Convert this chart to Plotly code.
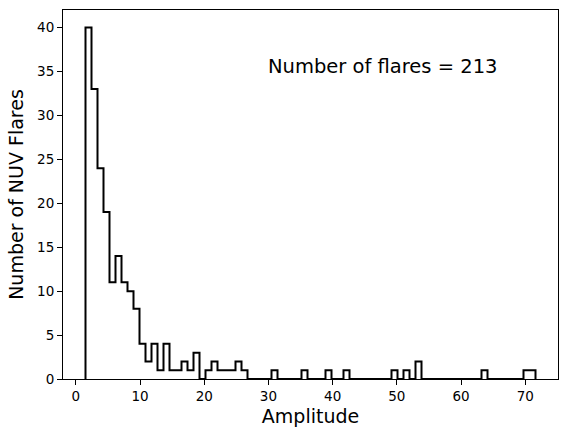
import plotly.graph_objects as go

# Histogram data
amp_min = 1.51
amp_max = 71.59
n_bins = 75
counts = [40, 33, 24, 19, 11, 14, 11, 10, 8, 4,
          2, 4, 1, 4, 1, 1, 2, 1, 3, 0,
          1, 2, 1, 1, 1, 2, 1, 0, 0, 0,
          0, 1, 0, 0, 0, 0, 1, 0, 0, 0,
          1, 0, 0, 1, 0, 0, 0, 0, 0, 0,
          0, 1, 0, 1, 0, 2, 0, 0, 0, 0,
          0, 0, 0, 0, 0, 0, 1, 0, 0, 0,
          0, 0, 0, 1, 1]
x_ticks = [0, 10, 20, 30, 40, 50, 60, 70]
y_ticks = [0, 5, 10, 15, 20, 25, 30, 35, 40]
label_text = "Number of flares = %d" % sum(counts)

width = (amp_max - amp_min) / n_bins
edges = [amp_min + i * width for i in range(n_bins + 1)]

xs = [edges[0]] + edges[:n_bins] + [edges[-1]]
ys = [0] + counts + [0]

span = amp_max - amp_min
x_range = [amp_min - 0.05 * span, amp_max + 0.05 * span]
y_range = [0, max(counts) * 1.05]

font = "DejaVu Sans"

fig = go.Figure()
fig.add_trace(go.Scatter(x=xs, y=ys, mode="lines", line=dict(shape="hv", color="black", width=2),
                         showlegend=False, hoverinfo="skip"))

fig.add_annotation(x=30, y=35, xref="x", yref="y", text=label_text, showarrow=False,
                   xanchor="left", yanchor="bottom", yshift=-8, xshift=-2,
                   font=dict(family=font, size=19.5, color="black"))

axis_common = dict(showgrid=False, zeroline=False, showline=True, linecolor="black", linewidth=1.1,
                   mirror=True, ticks="outside", ticklen=5, tickwidth=1.1, tickcolor="black",
                   automargin=False,
                   tickfont=dict(family=font, size=13.5, color="black"))

fig.update_xaxes(range=x_range, tickvals=x_ticks, title=dict(text="Amplitude", font=dict(family=font, size=19, color="black"), standoff=6),
                 **axis_common)
fig.update_yaxes(range=y_range, tickvals=y_ticks, title=dict(text="Number of NUV Flares", font=dict(family=font, size=19, color="black"), standoff=8),
                 **axis_common)

fig.update_layout(width=568, height=437, margin=dict(l=63, r=10, t=9.5, b=57.7),
                  plot_bgcolor="white", paper_bgcolor="white",
                  font=dict(family=font, color="black"))

fig.write_html("out.html", config={"displayModeBar": False},
               post_script="document.body.style.margin='0';")
